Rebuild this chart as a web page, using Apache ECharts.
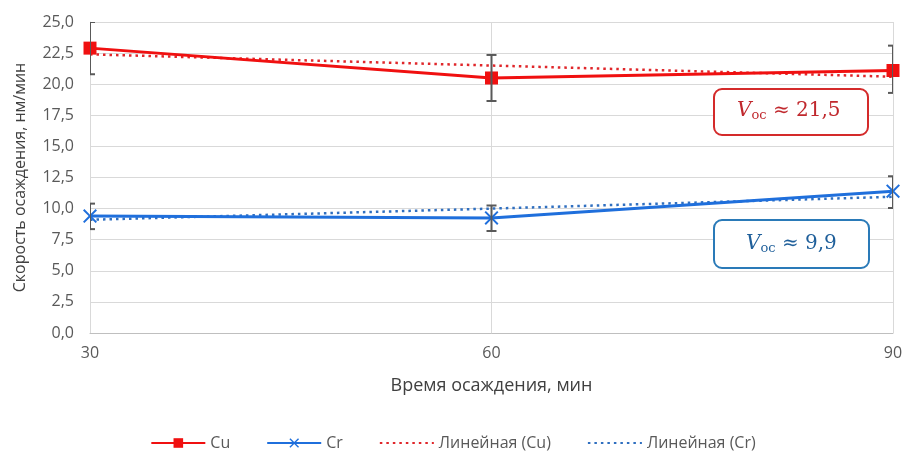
<!DOCTYPE html>
<html>
<head>
  <meta charset="utf-8" />
  <title>Скорость осаждения</title>
  <script src="https://cdn.jsdelivr.net/npm/echarts@6/dist/echarts.min.js"></script>
  <style>
    html, body { margin: 0; padding: 0; background: #fff; }
  </style>
</head>
<body>
<div id="main" style="width: 906px;height:453px;"></div>
<script type="text/javascript">
  // данные
  var times = [30, 60, 90];
  var cu = [22.9, 20.5, 21.1];
  var cr = [9.4, 9.25, 11.4];
  var cuErrLow = [20.8, 18.65, 19.3];
  var cuErrHigh = [25.0, 22.35, 23.1];
  var crErrLow = [8.35, 8.2, 10.05];
  var crErrHigh = [10.4, 10.25, 12.6];
  var cuTrend = [22.4, 21.5, 20.6];
  var crTrend = [9.1, 10.0, 10.95];

  var font = 'Open Sans';
  var gray = '#595959';

  function pairs(ys) {
    return times.map(function (t, i) { return [t, ys[i]]; });
  }
  function errData(lo, hi) {
    return times.map(function (t, i) { return [t, lo[i], hi[i]]; });
  }

  // отрисовка планок погрешностей
  function renderErr(params, api) {
    var x = api.value(0);
    var p1 = api.coord([x, api.value(1)]);
    var p2 = api.coord([x, api.value(2)]);
    var w = 5;
    var st = { stroke: gray, lineWidth: 2 };
    return {
      type: 'group',
      children: [
        { type: 'line', shape: { x1: p1[0], y1: p1[1], x2: p2[0], y2: p2[1] }, style: st },
        { type: 'line', shape: { x1: p1[0] - w, y1: p1[1], x2: p1[0] + w, y2: p1[1] }, style: st },
        { type: 'line', shape: { x1: p2[0] - w, y1: p2[1], x2: p2[0] + w, y2: p2[1] }, style: st }
      ]
    };
  }

  var crossSymbol = 'path://M0,1L1,0L5,4L9,0L10,1L6,5L10,9L9,10L5,6L1,10L0,9L4,5Z';

  var chart = echarts.init(document.getElementById('main'));
  var option = {
    animation: false,
    textStyle: { fontFamily: font },
    grid: { left: 90, right: 13, top: 22, bottom: 120 },
    xAxis: {
      type: 'value',
      min: 30, max: 90, interval: 30,
      name: 'Время осаждения, мин',
      nameLocation: 'middle',
      nameGap: 44,
      nameTextStyle: { color: '#404040', fontSize: 18, fontFamily: font },
      axisLine: { lineStyle: { color: '#bfbfbf' } },
      axisTick: { show: false },
      axisLabel: { color: gray, fontSize: 16, margin: 12 },
      splitLine: { show: true, lineStyle: { color: '#d9d9d9' } }
    },
    yAxis: {
      type: 'value',
      min: 0, max: 25, interval: 2.5,
      name: 'Скорость осаждения, нм/мин',
      nameLocation: 'middle',
      nameGap: 62,
      nameTextStyle: { color: '#404040', fontSize: 16, fontFamily: font },
      axisLine: { show: true, lineStyle: { color: '#d9d9d9' } },
      axisTick: { show: false },
      axisLabel: {
        color: gray, fontSize: 16, margin: 16,
        formatter: function (v) { return v.toFixed(1).replace('.', ','); }
      },
      splitLine: { lineStyle: { color: '#d9d9d9' } }
    },
    legend: {
      top: 430,
      left: 'center',
      itemGap: 36,
      itemWidth: 54,
      itemHeight: 12,
      textStyle: { color: gray, fontSize: 16, fontFamily: font },
      data: [
        'Cu', 'Cr',
        { name: 'Линейная (Cu)', itemStyle: { opacity: 0 } },
        { name: 'Линейная (Cr)', itemStyle: { opacity: 0 } }
      ]
    },
    series: [
      {
        name: 'Линейная (Cu)', type: 'line', data: pairs(cuTrend),
        symbol: 'none', z: 2,
        lineStyle: { color: '#e0262a', width: 2.5, type: [2.5, 4] },
        itemStyle: { color: '#e0262a' }
      },
      {
        name: 'Линейная (Cr)', type: 'line', data: pairs(crTrend),
        symbol: 'none', z: 2,
        lineStyle: { color: '#2f6fc0', width: 2.5, type: [2.5, 4] },
        itemStyle: { color: '#2f6fc0' }
      },
      {
        name: 'Cu', type: 'line', data: pairs(cu),
        symbol: 'rect', symbolSize: 13, z: 3,
        lineStyle: { color: '#f01010', width: 3 },
        itemStyle: { color: '#f01010' }
      },
      {
        name: 'Cr', type: 'line', data: pairs(cr),
        symbol: crossSymbol, symbolSize: 14, z: 3,
        lineStyle: { color: '#1f6fdc', width: 3 },
        itemStyle: { color: '#1f6fdc' }
      },
      {
        type: 'custom', name: 'errCu', renderItem: renderErr,
        data: errData(cuErrLow, cuErrHigh), clip: true, z: 4,
        encode: { x: 0, y: [1, 2] }
      },
      {
        type: 'custom', name: 'errCr', renderItem: renderErr,
        data: errData(crErrLow, crErrHigh), clip: true, z: 4,
        encode: { x: 0, y: [1, 2] }
      }
    ],
    graphic: [
      {
        type: 'rect', left: 713, top: 88,
        shape: { width: 154, height: 46, r: 8 },
        style: { fill: '#fff', stroke: '#d42a2a', lineWidth: 2 }, z: 10
      },
      {
        type: 'text', left: 737, top: 101, z: 11,
        style: {
          text: '{v|V}{s|oc}{t| ≈ 21,5}',
          rich: {
            v: { fontFamily: 'DejaVu Serif', fontStyle: 'italic', fontSize: 20, fill: '#c0282d' },
            s: { fontFamily: 'DejaVu Serif', fontSize: 13, fill: '#c0282d', padding: [10, 0, 0, 0] },
            t: { fontFamily: 'DejaVu Serif', fontSize: 20, fill: '#c0282d' }
          }
        }
      },
      {
        type: 'rect', left: 713, top: 219,
        shape: { width: 155, height: 48, r: 8 },
        style: { fill: '#fff', stroke: '#2a7ab8', lineWidth: 2 }, z: 10
      },
      {
        type: 'text', left: 746, top: 234, z: 11,
        style: {
          text: '{v|V}{s|oc}{t| ≈ 9,9}',
          rich: {
            v: { fontFamily: 'DejaVu Serif', fontStyle: 'italic', fontSize: 20, fill: '#1f5f9a' },
            s: { fontFamily: 'DejaVu Serif', fontSize: 13, fill: '#1f5f9a', padding: [10, 0, 0, 0] },
            t: { fontFamily: 'DejaVu Serif', fontSize: 20, fill: '#1f5f9a' }
          }
        }
      }
    ]
  };
  chart.setOption(option);
</script>
</body>
</html>
